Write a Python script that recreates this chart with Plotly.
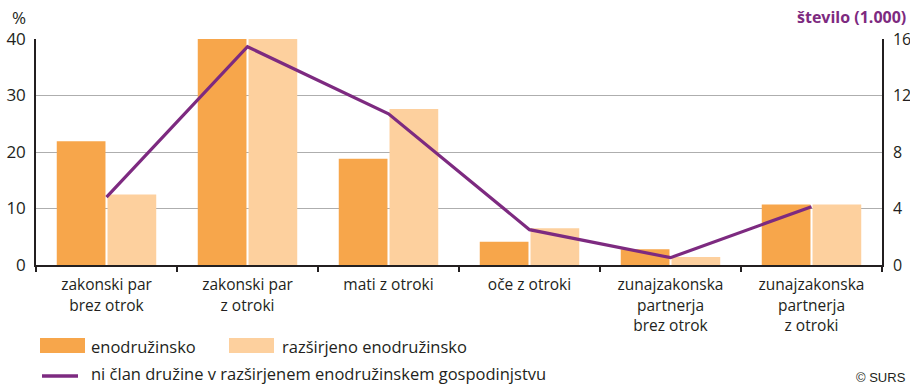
import plotly.graph_objects as go

# Family types (category labels)
categories = [
    "zakonski par<br>brez otrok",
    "zakonski par<br>z otroki",
    "mati z otroki",
    "oče z otroki",
    "zunajzakonska<br>partnerja<br>brez otrok",
    "zunajzakonska<br>partnerja<br>z otroki",
]
# Share of families (%)
enodruzinsko = [21.9, 41.0, 18.8, 4.1, 2.8, 10.7]
razsirjeno = [12.5, 40.5, 27.6, 6.5, 1.4, 10.7]
# Persons not member of the family, in thousands
ni_clan = [4.8, 15.45, 10.7, 2.5, 0.52, 4.13]

left_ticks = [0, 10, 20, 30, 40]
right_ticks = [0, 4, 8, 12, 16]

C_DARK = "#F7A64B"
C_LIGHT = "#FDD09E"
C_LINE = "#7D2A80"
FONT = "Open Sans"
TXT = "#231F20"

# plot area in pixels
W, H = 910, 384
L, R, T, B = 36, 882, 39, 265


def px(x):
    return (x - L) / (R - L)


def py(y):
    return (B - y) / (B - T)


fig = go.Figure()
fig.add_bar(x=categories, y=enodruzinsko, marker_color=C_DARK, marker_line_width=0,
            name="enodružinsko", showlegend=False)
fig.add_bar(x=categories, y=razsirjeno, marker_color=C_LIGHT, marker_line_width=0,
            name="razširjeno enodružinsko", showlegend=False)
fig.add_scatter(x=categories, y=ni_clan, yaxis="y2", mode="lines",
                line=dict(color=C_LINE, width=3.2),
                name="ni član družine v razširjenem enodružinskem gospodinjstvu",
                showlegend=False)

fig.update_layout(
    width=W, height=H,
    margin=dict(l=L, r=W - R, t=T, b=H - B, autoexpand=False),
    paper_bgcolor="white", plot_bgcolor="white",
    barmode="group", bargap=0.28, bargroupgap=0.04,
    font=dict(family=FONT, size=15, color=TXT),
    xaxis=dict(type="category", tickson="boundaries", ticks="outside", ticklen=5,
               tickcolor=TXT, tickwidth=1.5, showline=True, linecolor=TXT, linewidth=1.5,
               showgrid=False, tickfont=dict(size=15.5, color=TXT), automargin=False,
               ticklabelstandoff=5),
    yaxis=dict(range=[0, 40], tickvals=left_ticks, showline=True, linecolor=TXT, linewidth=1.5,
               showgrid=True, gridcolor="#AEAEAE", gridwidth=1.3, zeroline=False,
               ticks="", tickfont=dict(size=17, color=TXT), ticklabelstandoff=5,
               automargin=False),
    yaxis2=dict(range=[0, 16], tickvals=right_ticks, overlaying="y", side="right",
                showline=True, linecolor=TXT, linewidth=1.5, showgrid=False, zeroline=False,
                ticks="", tickfont=dict(size=16, color=TXT), ticklabelstandoff=6,
                automargin=False),
)

ann = []
ann.append(dict(text="%", x=px(10), y=py(17), xanchor="left", yanchor="middle",
                font=dict(size=17, color=TXT)))
ann.append(dict(text="<b>število (1.000)</b>", x=px(908), y=py(17), xanchor="right",
                yanchor="middle", font=dict(size=16, color=C_LINE)))

# legend drawn by hand
shapes = []
shapes.append(dict(type="rect", xref="paper", yref="paper", x0=px(40), x1=px(85),
                   y0=py(353), y1=py(338), fillcolor=C_DARK, line_width=0))
ann.append(dict(text="enodružinsko", x=px(89), y=py(346), xanchor="left", yanchor="middle"))
shapes.append(dict(type="rect", xref="paper", yref="paper", x0=px(229), x1=px(274),
                   y0=py(353), y1=py(338), fillcolor=C_LIGHT, line_width=0))
ann.append(dict(text="razširjeno enodružinsko", x=px(280), y=py(346), xanchor="left",
                yanchor="middle"))
shapes.append(dict(type="line", xref="paper", yref="paper", x0=px(42), x1=px(78),
                   y0=py(376), y1=py(376), line=dict(color=C_LINE, width=3.5)))
ann.append(dict(text="ni član družine v razširjenem enodružinskem gospodinjstvu",
                x=px(89), y=py(373.5), xanchor="left", yanchor="middle"))
ann.append(dict(text="© SURS", x=px(908), y=py(377), xanchor="right", yanchor="middle",
                font=dict(family="Liberation Sans", size=13, color=TXT)))

for a in ann:
    a.update(xref="paper", yref="paper", showarrow=False)
    a.setdefault("font", dict(size=16.5, color=TXT))

fig.update_layout(annotations=ann, shapes=shapes)
fig.write_html("out.html")
